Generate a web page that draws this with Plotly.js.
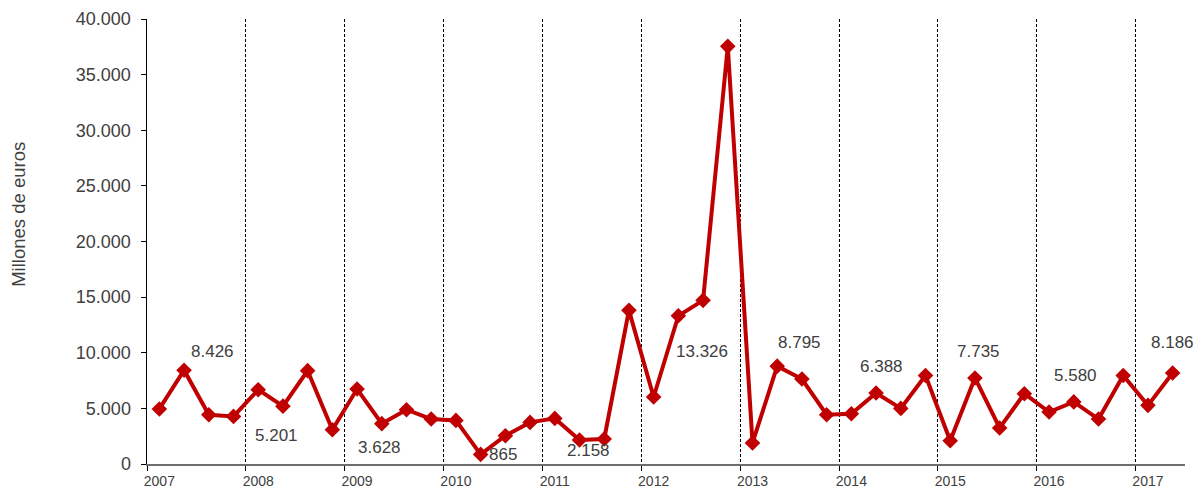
<!DOCTYPE html>
<html>
<head>
<meta charset="utf-8">
<script src="https://cdn.plot.ly/plotly-3.0.1.min.js"></script>
<style>
  html, body { margin: 0; padding: 0; background: #fff; }
  #chart { width: 1202px; height: 490px; }
</style>
</head>
<body>
<div id="chart"></div>
<script>
// Years shown on the x axis (one label per year, on its first quarter)
const years = ["2007","2008","2009","2010","2011","2012","2013","2014","2015","2016","2017"];

// Quarterly values, millions of euros (2007 Q1 .. 2017 Q2)
const values = [
  4950, 8426, 4430, 4280,
  6680, 5201, 8390, 3080,
  6740, 3628, 4880, 4040,
  3920,  865, 2540, 3740,
  4100, 2158, 2250, 13810,
  6020, 13326, 14710, 37540,
  1890, 8795, 7640, 4430,
  4520, 6388, 5000, 7960,
  2090, 7735, 3240, 6320,
  4670, 5580, 4040, 7960,
  5270, 8186
];

// Indices of the labelled points (second quarter of each year)
const labelIdx = [1, 5, 9, 13, 17, 21, 25, 29, 33, 37, 41];

// Label offsets in pixels [dx, dy] (layout only)
const labelOffsets = [
  [28, 19], [-6, -29], [-2, -24], [22, 0], [9, -11], [24, -36],
  [22, 24], [5, 26], [4, 26], [2, 26], [0, 30]
];

const yTitle = "Millones de euros";

function fmtThousands(v) {
  return String(Math.round(v)).replace(/\B(?=(\d{3})+(?!\d))/g, ".");
}

const xIdx = values.map((_, i) => i);
const yearTickVals = years.map((_, i) => i * 4);

const trace = {
  x: xIdx,
  y: values,
  type: "scatter",
  mode: "lines+markers",
  line: { color: "#C00000", width: 4 },
  marker: { symbol: "diamond", size: 12, color: "#C00000" },
  hoverinfo: "skip",
  cliponaxis: false
};

const annotations = labelIdx.map((i, k) => ({
  x: i, y: values[i], xref: "x", yref: "y",
  text: fmtThousands(values[i]),
  showarrow: false,
  xshift: labelOffsets[k][0],
  yshift: labelOffsets[k][1],
  font: { family: "Liberation Sans, Arial, sans-serif", size: 17, color: "#404040" }
}));

// y-axis title (placed off-centre as in the original)
annotations.push({
  xref: "paper", yref: "paper",
  x: -0.1233, y: 0.56,
  xanchor: "center", yanchor: "middle",
  textangle: -90,
  text: yTitle,
  showarrow: false,
  font: { family: "Liberation Sans, Arial, sans-serif", size: 18.5, color: "#404040" }
});

const layout = {
  width: 1202, height: 490,
  margin: { l: 147, r: 17, t: 19, b: 26 },
  paper_bgcolor: "#ffffff",
  plot_bgcolor: "#ffffff",
  separators: ",.",
  showlegend: false,
  font: { family: "Liberation Sans, Arial, sans-serif", color: "#404040" },
  xaxis: {
    range: [-0.5, values.length - 0.5],
    tickmode: "array",
    tickvals: yearTickVals,
    ticktext: years,
    ticks: "",
    ticklabelstandoff: 3,
    tickfont: { size: 14, color: "#404040" },
    showgrid: false,
    zeroline: false,
    showline: true,
    linecolor: "#6e6e6e",
    linewidth: 2,
    minor: {
      tickmode: "linear",
      tick0: -0.5,
      dtick: 4,
      ticks: "outside",
      ticklen: 5,
      tickcolor: "#000",
      showgrid: true,
      gridcolor: "#000000",
      gridwidth: 1,
      griddash: "3px,2px"
    },
    fixedrange: true
  },
  yaxis: {
    range: [0, 40000],
    tickmode: "linear",
    tick0: 0,
    dtick: 5000,
    tickformat: ",d",
    ticks: "outside",
    ticklen: 5,
    tickcolor: "#000",
    ticklabelstandoff: 6,
    tickfont: { size: 18, color: "#404040" },
    showgrid: false,
    zeroline: false,
    showline: true,
    linecolor: "#000000",
    linewidth: 1.5,
    fixedrange: true
  },
  annotations: annotations
};

Plotly.newPlot("chart", [trace], layout, { staticPlot: true, displayModeBar: false });
</script>
</body>
</html>
